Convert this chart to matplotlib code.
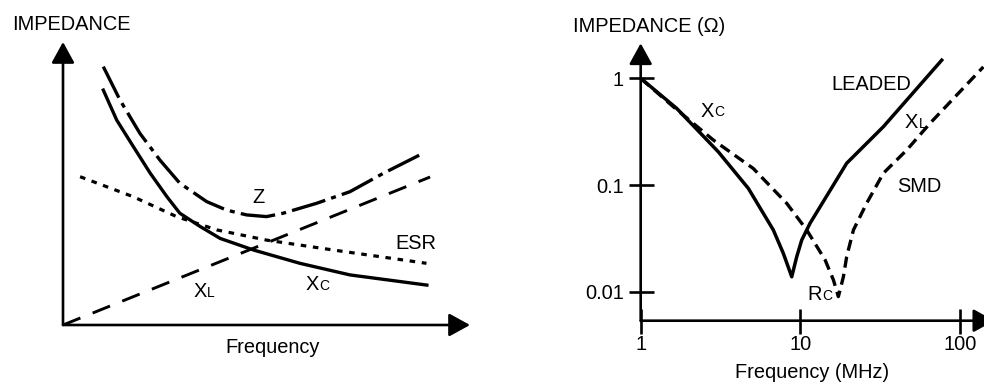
import matplotlib
matplotlib.use("Agg")
import matplotlib.pyplot as plt
from matplotlib.ticker import NullLocator

plt.rcParams['font.family'] = ['Liberation Sans', 'DejaVu Sans']
plt.rcParams['lines.scale_dashes'] = False
FS = 14.4
SUB = 10

# ---- left sketch (arbitrary units) ----
xc_x = [0.99, 1.32, 1.73, 2.14, 2.55, 2.87, 3.37, 3.86, 4.68, 5.82, 7.05, 8.94]
xc_y = [8.30, 7.24, 6.30, 5.37, 4.54, 3.95, 3.48, 3.06, 2.65, 2.18, 1.77, 1.41]
z_x = [0.99, 1.40, 1.89, 2.38, 2.87, 3.53, 4.02, 4.51, 5.00, 5.41, 6.23, 7.05, 7.87, 8.85]
z_y = [9.13, 7.95, 6.77, 5.83, 5.01, 4.36, 4.06, 3.89, 3.83, 3.95, 4.30, 4.71, 5.36, 6.07]
esr_x = [0.42, 1.73, 2.79, 3.78, 5.00, 6.64, 8.93]
esr_y = [5.24, 4.53, 3.83, 3.36, 3.00, 2.65, 2.18]
xl_x = [0.0, 9.02]
xl_y = [0.0, 5.23]

# ---- right chart (MHz, ohm) ----
leaded_f = [1, 1.68, 3.06, 4.72, 6.77, 7.82, 8.83, 9.49, 10.2, 11.5, 13.3, 19.5, 33.1, 76.8]
leaded_z = [1, 0.523, 0.205, 0.0931, 0.0379, 0.0229, 0.0138, 0.0213, 0.0305, 0.0438,
            0.0626, 0.160, 0.352, 1.48]
smd_f = [1, 1.60, 2.85, 5.07, 8.21, 10.96, 14.3, 16.1, 17.3, 18.6, 19.5, 21.5, 26.0,
         33.1, 46.4, 64.9, 140]
smd_z = [1, 0.542, 0.264, 0.143, 0.0674, 0.0379, 0.0198, 0.0129, 0.0090, 0.0138, 0.0213,
         0.0379, 0.0674, 0.129, 0.213, 0.379, 1.28]
yticks = [0.01, 0.1, 1]
ytick_labels = ['0.01', '0.1', '1']
xticks = [1, 10, 100]
xtick_labels = ['1', '10', '100']

W, H = 984, 383
fig = plt.figure(figsize=(W / 100, H / 100), dpi=100)


def px(x, y):
    return x / W, 1 - y / H


def arrow(ax, start, end):
    ax.annotate('', xy=end, xytext=start, xycoords='axes fraction',
                textcoords='axes fraction', annotation_clip=False,
                arrowprops=dict(arrowstyle='-|>,head_length=0.4,head_width=0.22',
                                mutation_scale=32, lw=1.9, color='black',
                                shrinkA=0, shrinkB=0))


def sub_label(x, y, main, small):
    # big letter plus a smaller one sitting on the same baseline
    t = fig.text(*px(x, y), main, fontsize=FS, va='baseline', ha='left')
    ax_l.annotate(small, xy=(1, 0), xycoords=t, xytext=(0, 0.9),
                  textcoords='offset points', fontsize=SUB, va='bottom', ha='left')


# left axes
ax_l = fig.add_axes([63 / W, (H - 325) / H, 407 / W, 283 / H])
ax_l.set_xlim(0, 10)
ax_l.set_ylim(0, 10)
ax_l.axis('off')
arrow(ax_l, (0, 0), (1, 0))
arrow(ax_l, (0, 0), (0, 1))
ax_l.plot(xl_x, xl_y, color='black', lw=2.1, dashes=(13.5, 9.5))
ax_l.plot(esr_x, esr_y, color='black', lw=2.3, dashes=(4.0, 4.8))
ax_l.plot(z_x, z_y, color='black', lw=2.4, dashes=(25, 4.5, 3.6, 4.5))
ax_l.plot(xc_x, xc_y, color='black', lw=2.4)

fig.text(*px(11.7, 30), 'IMPEDANCE', fontsize=FS, va='baseline')
fig.text(*px(225, 353.3), 'Frequency', fontsize=FS, va='baseline')
fig.text(*px(252, 203), 'Z', fontsize=FS, va='baseline')
fig.text(*px(395, 249), 'ESR', fontsize=FS, va='baseline')
sub_label(193.3, 297.3, 'X', 'L')
sub_label(306, 290, 'X', 'C')

# right axes
ax_r = fig.add_axes([640.7 / W, (H - 320.7) / H, 343.3 / W, 277.4 / H])
ax_r.set_xscale('log')
ax_r.set_yscale('log')
ax_r.set_xlim(1, 141.3)
ax_r.set_ylim(0.00535, 2.13)
ax_r.patch.set_visible(False)
for s in ax_r.spines.values():
    s.set_visible(False)
ax_r.set_xticks(xticks, labels=xtick_labels)
ax_r.set_yticks(yticks, labels=ytick_labels)
ax_r.xaxis.set_minor_locator(NullLocator())
ax_r.yaxis.set_minor_locator(NullLocator())
ax_r.tick_params(direction='inout', length=18, width=1.9, labelsize=FS)
ax_r.tick_params(axis='x', pad=1.5)
ax_r.tick_params(axis='y', pad=3)
arrow(ax_r, (0, 0), (1.03, 0))
arrow(ax_r, (0, 0), (0, 1))
ax_r.plot(smd_f, smd_z, color='black', lw=2.4, dashes=(8, 4.5), clip_on=False)
ax_r.plot(leaded_f, leaded_z, color='black', lw=2.5)

fig.text(*px(573.3, 31.7), 'IMPEDANCE (\u03a9)', fontsize=FS, va='baseline')
fig.text(*px(735, 378.3), 'Frequency (MHz)', fontsize=FS, va='baseline')
fig.text(*px(831.7, 90), 'LEADED', fontsize=FS, va='baseline')
fig.text(*px(896.7, 191.7), 'SMD', fontsize=FS, va='baseline')
sub_label(701, 116.7, 'X', 'C')
sub_label(905, 128.3, 'X', 'L')
sub_label(807.3, 300, 'R', 'C')

fig.savefig('out.png', dpi=100)
